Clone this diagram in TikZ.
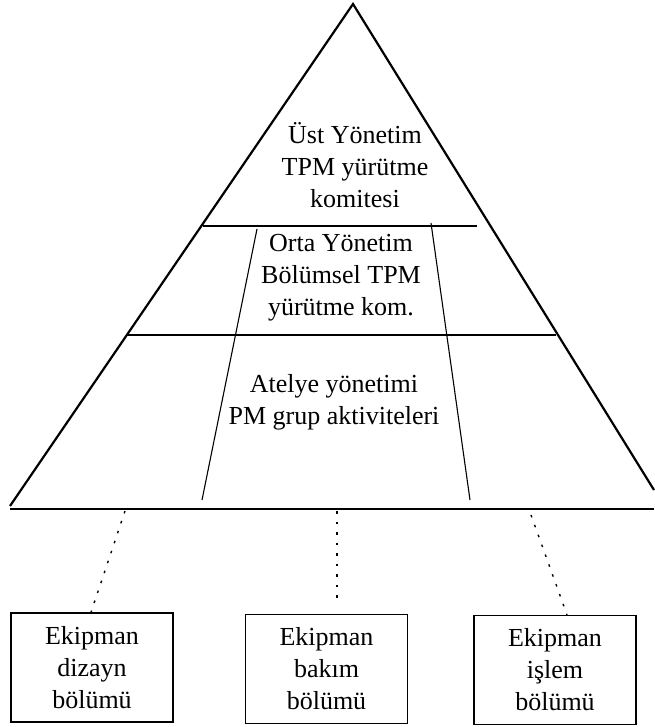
\documentclass[tikz,border=0pt]{standalone}
\usepackage{fontspec}
\setmainfont{Liberation Serif}
\begin{document}
\begin{tikzpicture}[x=1pt, y=-1pt,
  side/.style={line width=2.2pt},
  level/.style={line width=1.6pt},
  divider/.style={line width=1.1pt},
  label/.style={align=center, inner sep=0pt, font=\fontsize{26}{32}\selectfont},
  unit/.style={draw, line width=1.3pt, inner sep=0pt, minimum width=162pt,
    minimum height=109pt, align=center, font=\fontsize{26}{32}\selectfont},
  link/.style={line width=1.4pt, dash pattern=on 2.5pt off 8pt}]
  \useasboundingbox (0,0) rectangle (654,727);

  % pyramid outline and its base
  \coordinate (apex) at (353,4);
  \coordinate (bl) at (10,506);
  \coordinate (br) at (654,490);
  \draw[side] (bl) -- (apex) -- (br);
  \coordinate (base0) at (10,509);
  \coordinate (base1) at (654,509);
  \draw[side, line width=2pt] (base0) -- (base1);

  % level boundaries
  \coordinate (l1a) at (203,226);
  \coordinate (l1b) at (477,226);
  \coordinate (l2a) at (127,335);
  \coordinate (l2b) at (556,335);
  \draw[level] (l1a) -- (l1b);
  \draw[level] (l2a) -- (l2b);

  % slanted dividers of the lower levels
  \coordinate (v1a) at (257,229);
  \coordinate (v1b) at (202,500);
  \coordinate (v2a) at (431,223);
  \coordinate (v2b) at (470,500);
  \draw[divider] (v1a) -- (v1b);
  \draw[divider] (v2a) -- (v2b);

  % level texts
  \node[label] (top) at (355,165) {Üst Yönetim\\TPM yürütme\\komitesi};
  \node[label] (mid) at (341,278) {Orta Yönetim\\Bölümsel TPM\\yürütme kom.};
  \node[label] (low) at (334,402) {Atelye yönetimi\\PM grup aktiviteleri};

  % departments
  \node[unit] (b1) at (92,667.5) {Ekipman\\dizayn\\bölümü};
  \node[unit] (b2) at (326.5,669) {Ekipman\\bakım\\bölümü};
  \node[unit] (b3) at (555,670) {Ekipman\\işlem\\bölümü};

  % dotted links from the base to the departments
  \coordinate (d1) at (125,511);
  \coordinate (d2) at (337,511);
  \coordinate (d3) at (531,515);
  \coordinate (e3) at ([xshift=12pt]b3.north);
  \draw[link] (d1) -- ([xshift=-1pt]b1.north);
  \draw[link, shorten >=10pt] (d2) -- (d2 |- b2.north);
  \draw[link] (d3) -- (e3);
\end{tikzpicture}
\end{document}
